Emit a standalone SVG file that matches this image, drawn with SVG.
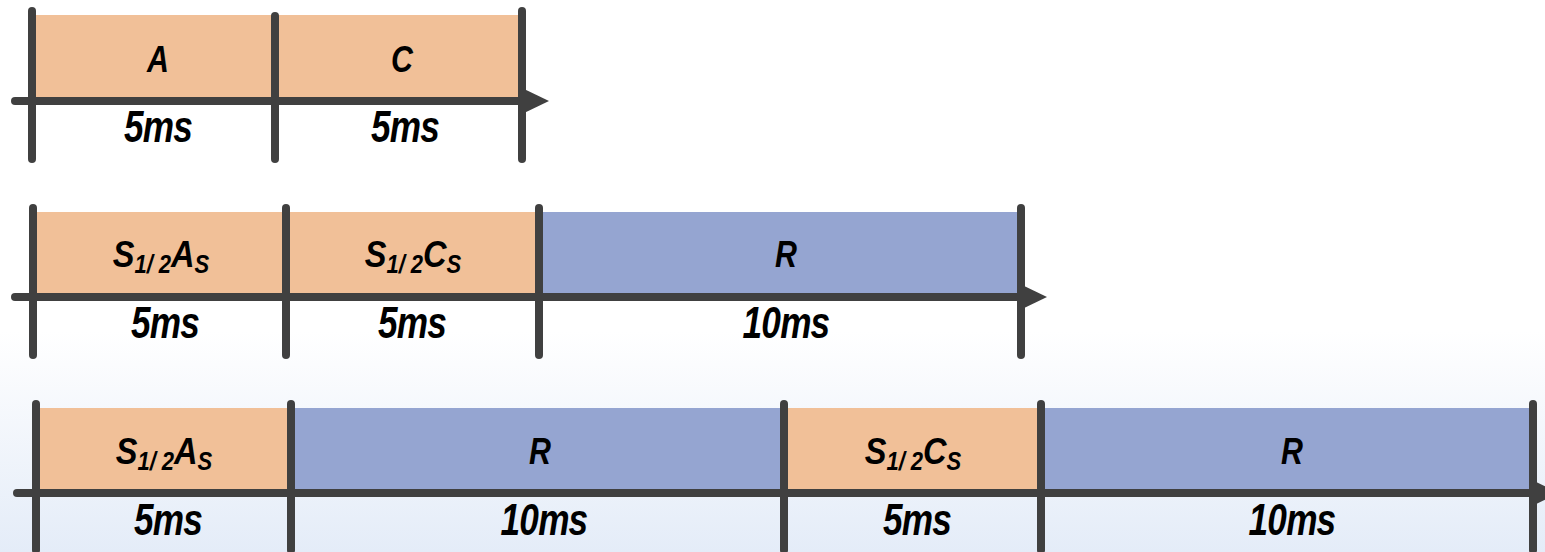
<svg xmlns="http://www.w3.org/2000/svg" width="1545" height="552" viewBox="0 0 1545 552">
<defs>
<linearGradient id="bg" x1="0" y1="0" x2="0" y2="1">
<stop offset="0" stop-color="#ffffff"/>
<stop offset="0.6" stop-color="#ffffff"/>
<stop offset="1" stop-color="#E4ECF8"/>
</linearGradient>
<marker id="arr" markerUnits="userSpaceOnUse" markerWidth="30" markerHeight="30" viewBox="0 -14 30 28" refX="0" refY="0" orient="auto" overflow="visible">
<path d="M0,-13 L27,0 L0,13 z" fill="#404040"/>
</marker>
<style>
.o{fill:#F1C098}
.b{fill:#95A5D1}
.ln{stroke:#404040;stroke-width:8;stroke-linecap:round;fill:none}
.t{font-family:"Liberation Sans",Arial,sans-serif;font-weight:bold;font-style:italic;fill:#000;text-anchor:middle}
.k{font-size:37px}
.m{font-size:44px;letter-spacing:-1px}
.s{font-size:25px}
</style>
</defs>
<rect x="0" y="0" width="1545" height="552" fill="url(#bg)"/>

<!-- Row 1 -->
<g id="r1-A">
<rect class="o" x="32" y="15" width="243" height="82"/>
<text class="t k" transform="translate(158,72) scale(0.82,1)">A</text>
<text class="t m" transform="translate(158,142) scale(0.8,1)">5ms</text>
</g>
<g id="r1-C">
<rect class="o" x="275" y="15" width="248" height="82"/>
<text class="t k" transform="translate(402,72) scale(0.82,1)">C</text>
<text class="t m" transform="translate(405,142) scale(0.8,1)">5ms</text>
</g>

<!-- Row 2 -->
<g id="r2-SA">
<rect class="o" x="33" y="212" width="253" height="81"/>
<text class="t k" transform="translate(161,267) scale(0.88,1)">S<tspan class="s" dy="6">1/ 2</tspan><tspan dy="-6">A</tspan><tspan class="s" dy="6">S</tspan></text>
<text class="t m" transform="translate(165,338) scale(0.8,1)">5ms</text>
</g>
<g id="r2-SC">
<rect class="o" x="286" y="212" width="253" height="81"/>
<text class="t k" transform="translate(413,267) scale(0.88,1)">S<tspan class="s" dy="6">1/ 2</tspan><tspan dy="-6">C</tspan><tspan class="s" dy="6">S</tspan></text>
<text class="t m" transform="translate(412,338) scale(0.8,1)">5ms</text>
</g>
<g id="r2-R">
<rect class="b" x="539" y="212" width="482" height="81"/>
<text class="t k" transform="translate(786,267) scale(0.82,1)">R</text>
<text class="t m" transform="translate(786,338) scale(0.8,1)">10ms</text>
</g>

<!-- Row 3 -->
<g id="r3-SA">
<rect class="o" x="36" y="408" width="255" height="81"/>
<text class="t k" transform="translate(164,464) scale(0.88,1)">S<tspan class="s" dy="6">1/ 2</tspan><tspan dy="-6">A</tspan><tspan class="s" dy="6">S</tspan></text>
<text class="t m" transform="translate(168,535) scale(0.8,1)">5ms</text>
</g>
<g id="r3-R1">
<rect class="b" x="291" y="408" width="493" height="81"/>
<text class="t k" transform="translate(540,464) scale(0.82,1)">R</text>
<text class="t m" transform="translate(544,535) scale(0.8,1)">10ms</text>
</g>
<g id="r3-SC">
<rect class="o" x="784" y="408" width="257" height="81"/>
<text class="t k" transform="translate(913,464) scale(0.88,1)">S<tspan class="s" dy="6">1/ 2</tspan><tspan dy="-6">C</tspan><tspan class="s" dy="6">S</tspan></text>
<text class="t m" transform="translate(917,535) scale(0.8,1)">5ms</text>
</g>
<g id="r3-R2">
<rect class="b" x="1041" y="408" width="492" height="81"/>
<text class="t k" transform="translate(1292,464) scale(0.82,1)">R</text>
<text class="t m" transform="translate(1292,535) scale(0.8,1)">10ms</text>
</g>

<g id="connectors">
<line class="ln" x1="15" y1="101" x2="522" y2="101" marker-end="url(#arr)"/>
<line class="ln" x1="15" y1="297" x2="1020" y2="297" marker-end="url(#arr)"/>
<line class="ln" x1="17" y1="493" x2="1532" y2="493" marker-end="url(#arr)"/>
<line class="ln" x1="32" y1="11" x2="32" y2="159"/>
<line class="ln" x1="275" y1="16" x2="275" y2="159"/>
<line class="ln" x1="522" y1="11" x2="522" y2="159"/>
<line class="ln" x1="33" y1="208" x2="33" y2="355"/>
<line class="ln" x1="286" y1="208" x2="286" y2="355"/>
<line class="ln" x1="539" y1="208" x2="539" y2="355"/>
<line class="ln" x1="1021" y1="208" x2="1021" y2="355"/>
<line class="ln" x1="36" y1="404" x2="36" y2="550"/>
<line class="ln" x1="291" y1="404" x2="291" y2="550"/>
<line class="ln" x1="784" y1="404" x2="784" y2="550"/>
<line class="ln" x1="1041" y1="404" x2="1041" y2="550"/>
<line class="ln" x1="1533" y1="404" x2="1533" y2="550"/>
</g>
</svg>
